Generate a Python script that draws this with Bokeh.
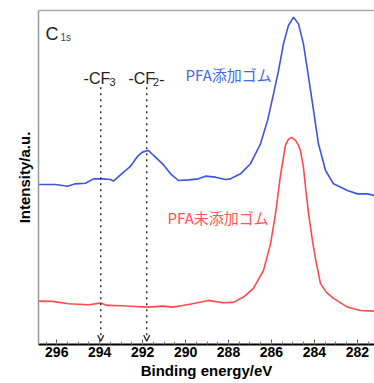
from bokeh.plotting import figure
from bokeh.models import Range1d, LinearAxis, Arrow, OpenHead, FixedTicker
from bokeh.core.properties import value
from bokeh.embed import file_html
from bokeh.resources import INLINE

# PFA added rubber (blue)
blue_ev = [296.85, 296.06, 295.50, 295.13, 294.66, 294.29, 293.87, 293.50, 293.36,
           292.94, 292.57, 292.24, 292.01, 291.73, 291.49, 291.07, 290.70, 290.33,
           289.86, 289.40, 289.07, 288.61, 288.14, 287.91, 287.77, 287.44, 286.98,
           286.51, 286.18, 285.90, 285.67, 285.44, 285.21, 284.97, 284.74, 284.51,
           284.27, 284.04, 283.81, 283.48, 283.11, 282.46, 281.99, 281.53, 281.20]
blue_int = [47.9, 47.9, 47.4, 48.1, 48.3, 49.6, 49.6, 49.4, 48.9,
            51.3, 53.3, 56.3, 57.6, 58.1, 56.6, 54.1, 51.1, 49.1,
            49.3, 49.6, 50.4, 50.1, 49.4, 49.6, 50.1, 51.1, 54.1,
            60.1, 67.1, 75.1, 82.0, 90.0, 95.5, 98.0, 96.0, 90.0,
            80.0, 70.1, 60.1, 52.1, 48.1, 46.1, 45.1, 45.1, 44.6]

# PFA-free rubber (red)
red_ev = [296.85, 296.20, 295.45, 294.52, 293.96, 293.64, 292.94, 292.33, 291.77,
          291.07, 290.61, 290.14, 289.68, 288.93, 288.28, 287.77, 287.30, 286.84,
          286.37, 286.04, 285.81, 285.58, 285.35, 285.21, 285.07, 284.88, 284.74,
          284.65, 284.51, 284.37, 284.27, 284.09, 283.95, 283.72, 283.44, 283.11,
          282.46, 281.86, 281.20]
red_int = [13.0, 12.9, 12.2, 11.9, 12.4, 11.7, 11.6, 11.4, 11.2,
           11.5, 11.2, 11.7, 12.2, 13.2, 12.5, 12.6, 14.2, 16.8,
           22.2, 30.2, 39.2, 50.6, 59.6, 61.4, 62.0, 61.1, 59.6,
           58.1, 53.0, 44.6, 39.2, 31.1, 25.7, 18.3, 15.6, 13.8,
           11.2, 10.2, 10.0]

marker_ev = [293.95, 291.81]
x_ticks = [296, 294, 292, 290, 288, 286, 284, 282]

BLUE = "#3a55e0"
RED = "#ff4a4a"
FONT = value("Liberation Sans")
JFONT = value("Noto Sans CJK JP")

p = figure(width=374, height=383, output_backend="svg", toolbar_location=None,
           x_range=Range1d(296.85, 281.2), y_range=Range1d(0, 100),
           x_axis_location=None, y_axis_location=None,
           min_border_left=38, min_border_right=0, min_border_top=10,
           min_border_bottom=39)
p.outline_line_color = None
p.xgrid.grid_line_color = None
p.ygrid.grid_line_color = None
p.background_fill_color = "white"

# bottom axis
xa = LinearAxis(ticker=FixedTicker(ticks=x_ticks,
                                   minor_ticks=[t / 2 for t in range(562, 594)]))
xa.axis_line_color = "black"
xa.axis_line_width = 2
xa.major_tick_in = 5
xa.major_tick_out = 0
xa.minor_tick_in = 3
xa.minor_tick_out = 0
xa.major_tick_line_color = "#555555"
xa.minor_tick_line_color = "#777777"
xa.major_label_text_font = "Liberation Sans"
xa.major_label_text_font_style = "bold"
xa.major_label_text_font_size = "14px"
xa.major_label_text_color = "black"
xa.major_label_standoff = 2
xa.axis_label = "Binding energy/eV"
xa.axis_label_text_font = "Liberation Sans"
xa.axis_label_text_font_style = "bold"
xa.axis_label_text_font_size = "15px"
xa.axis_label_text_color = "black"
xa.axis_label_standoff = 2
p.add_layout(xa, "below")

# left axis (no ticks)
ya = LinearAxis(ticker=FixedTicker(ticks=[]))
ya.axis_line_color = "#999999"
ya.axis_line_width = 1.5
ya.major_tick_line_color = None
ya.minor_tick_line_color = None
ya.major_label_text_font_size = "0px"
ya.major_label_standoff = 0
ya.axis_label = "Intensity/a.u."
ya.axis_label_text_font = "Liberation Sans"
ya.axis_label_text_font_style = "bold"
ya.axis_label_text_font_size = "15px"
ya.axis_label_text_color = "black"
ya.axis_label_standoff = 6
p.add_layout(ya, "left")

# top border
ta = LinearAxis(ticker=FixedTicker(ticks=[]))
ta.axis_line_color = "#aaaaaa"
ta.axis_line_width = 1.5
ta.major_tick_line_color = None
ta.minor_tick_line_color = None
ta.major_label_text_font_size = "0px"
ta.major_label_standoff = 0
p.add_layout(ta, "above")

# curves
p.line(blue_ev, blue_int, line_color=BLUE, line_width=1.6)
p.line(red_ev, red_int, line_color=RED, line_width=1.6)

# dotted marker lines with open arrow heads
for ev in marker_ev:
    p.add_layout(Arrow(end=OpenHead(size=6, line_color="#333333", line_width=1.3),
                       x_start=ev, y_start=77.0, x_end=ev, y_end=1.0,
                       line_color="#333333", line_width=1.5, line_dash="2 4"))

# texts
p.text(x=[296.52], y=[93.1], text=["C"], text_font=FONT, text_font_size="18px",
       text_color="#222222", text_baseline="alphabetic")
p.text(x=[295.83], y=[92.0], text=["1s"], text_font=FONT, text_font_size="10px",
       text_color="#444444", text_baseline="alphabetic")
p.text(x=[294.75, 292.66], y=[79.6, 79.6], text=["-CF", "-CF"], text_font=FONT,
       text_font_size="16px", text_color="#222222", text_baseline="alphabetic")
p.text(x=[293.54, 291.52], y=[78.7, 78.7], text=["3", "2"], text_font=FONT,
       text_font_size="11px", text_color="#222222", text_baseline="alphabetic")
p.text(x=[291.22], y=[79.6], text=["-"], text_font=FONT,
       text_font_size="16px", text_color="#222222", text_baseline="alphabetic")
p.text(x=[290.0], y=[80.8], text=["PFA添加ゴム"], text_font=JFONT,
       text_font_size="15px", text_color="#4466ee", text_baseline="alphabetic")
p.text(x=[290.84], y=[38.0], text=["PFA未添加ゴム"], text_font=JFONT,
       text_font_size="15px", text_color="#ff5555", text_baseline="alphabetic")

open("out.html", "w").write(file_html(p, INLINE))
